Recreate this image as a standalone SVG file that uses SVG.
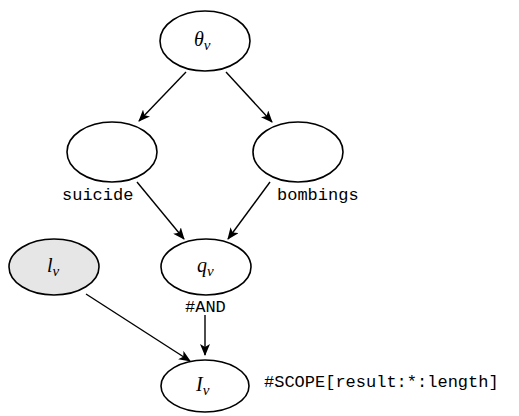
<svg xmlns="http://www.w3.org/2000/svg" width="519" height="416" viewBox="0 0 519 416">
  <style>
    .node { fill: #ffffff; stroke: #000000; stroke-width: 1.6; }
    .obs { fill: #e6e6e6; }
    .math { font-family: "Liberation Serif", "DejaVu Serif", serif; font-style: italic; font-size: 20px; fill: #000; }
    .sub { font-size: 15px; }
    .code { font-family: "Liberation Mono", "DejaVu Sans Mono", monospace; font-size: 17px; fill: #000; font-weight: 300; }
    .edge { stroke: #000000; stroke-width: 1.4; fill: none; marker-end: url(#arrow); }
  </style>
  <defs>
    <marker id="arrow" viewBox="0 0 12 10" refX="11" refY="5" markerWidth="12" markerHeight="10" markerUnits="userSpaceOnUse" orient="auto">
      <path d="M0,0 L12,5 L0,10 L3,5 Z" fill="#000000"/>
    </marker>
  </defs>

  <g id="connectors">
    <line class="edge" x1="186" y1="72" x2="139" y2="121"/>
    <line class="edge" x1="226" y1="72" x2="272" y2="122"/>
    <line class="edge" x1="137" y1="182" x2="184" y2="239"/>
    <line class="edge" x1="270" y1="182" x2="228" y2="239"/>
    <line class="edge" x1="86" y1="294" x2="190" y2="361"/>
    <line class="edge" x1="205" y1="315" x2="205" y2="355"/>
  </g>

  <g id="theta">
    <ellipse class="node" cx="205" cy="41" rx="45" ry="30"/>
    <text class="math" x="194" y="46">θ<tspan class="sub" dy="4">v</tspan></text>
  </g>

  <g id="suicide">
    <ellipse class="node" cx="112" cy="152" rx="45" ry="30"/>
    <text class="code" x="62" y="200">suicide</text>
  </g>

  <g id="bombings">
    <ellipse class="node" cx="298" cy="152" rx="45" ry="30"/>
    <text class="code" x="277" y="200">bombings</text>
  </g>

  <g id="l">
    <ellipse class="node obs" cx="54" cy="267" rx="45" ry="28"/>
    <text class="math" x="47" y="272">l<tspan class="sub" dy="4">v</tspan></text>
  </g>

  <g id="q">
    <ellipse class="node" cx="206" cy="267" rx="45" ry="28"/>
    <text class="math" x="197" y="272">q<tspan class="sub" dy="4">v</tspan></text>
    <text class="code" x="185" y="312">#AND</text>
  </g>

  <g id="I">
    <ellipse class="node" cx="205" cy="386" rx="44" ry="26"/>
    <text class="math" x="196" y="391">I<tspan class="sub" dy="4">v</tspan></text>
    <text class="code" x="264" y="387">#SCOPE[result:*:length]</text>
  </g>
</svg>
